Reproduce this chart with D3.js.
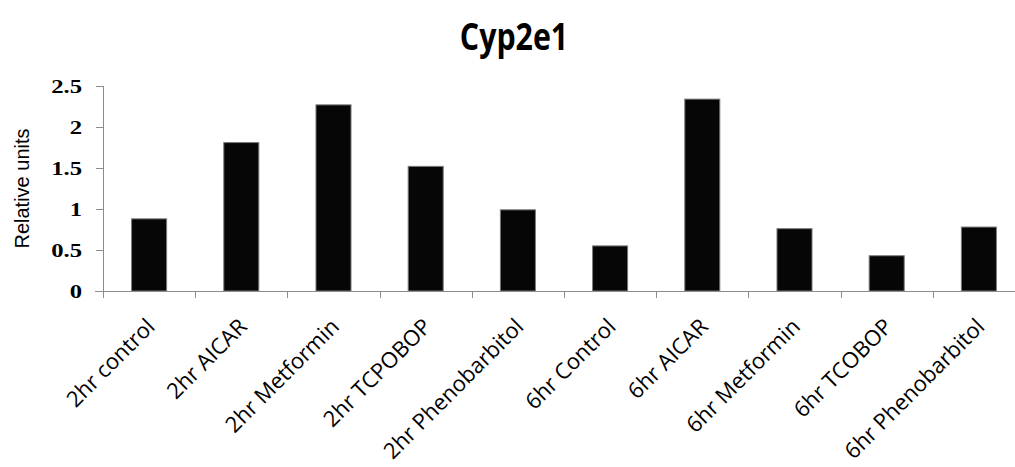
<!DOCTYPE html>
<html>
<head>
<meta charset="utf-8">
<script src="https://cdn.jsdelivr.net/npm/d3@7"></script>
<style>
  html, body { margin: 0; padding: 0; background: #ffffff; }
  svg { display: block; }
</style>
</head>
<body>
<svg id="chart" width="1015" height="467"></svg>
<script>
const categories = ["2hr control", "2hr AICAR", "2hr Metformin", "2hr TCPOBOP", "2hr Phenobarbitol",
                    "6hr Control", "6hr AICAR", "6hr Metformin", "6hr TCOBOP", "6hr Phenobarbitol"];
const values = [0.88, 1.81, 2.27, 1.52, 0.99, 0.55, 2.34, 0.76, 0.43, 0.78];
const yTicks = [0, 0.5, 1, 1.5, 2, 2.5];
const yTickLabels = ["0", "0.5", "1", "1.5", "2", "2.5"];
const chartTitle = "Cyp2e1";
const yTitle = "Relative units";

const svg = d3.select("#chart");
const mLeft = 103, mRight = 1025, mTop = 86, mBottom = 291;
const axisColor = "#8c8c8c";

const x = d3.scaleBand().domain(categories).range([mLeft, mRight]).paddingInner(0.62).paddingOuter(0.31);
const xb = d3.scaleBand().domain(categories).range([mLeft, mRight]);
const y = d3.scaleLinear().domain([0, 2.5]).range([mBottom, mTop]);

// title
svg.append("text")
  .attr("transform", "translate(514,50) scale(0.82,1)")
  .attr("text-anchor", "middle")
  .attr("font-family", "'Open Sans', 'Liberation Sans', sans-serif")
  .attr("font-weight", "bold")
  .attr("font-size", 37)
  .attr("fill", "#000")
  .text(chartTitle);

// y axis title
svg.append("text")
  .attr("transform", `translate(29,${(128 + 249) / 2}) rotate(-90)`)
  .attr("text-anchor", "middle")
  .attr("font-family", "'Liberation Sans', Arial, sans-serif")
  .attr("font-size", 20)
  .attr("fill", "#000")
  .text(yTitle);

// bars
svg.append("g").selectAll("rect")
  .data(values)
  .join("rect")
  .attr("x", (d, i) => x(categories[i]))
  .attr("width", x.bandwidth())
  .attr("y", d => y(d))
  .attr("height", d => mBottom - y(d))
  .attr("fill", "#060606")
  .attr("stroke", "#7a7a7a")
  .attr("stroke-width", 1);

// y axis
const yAxis = svg.append("g");
yAxis.append("line")
  .attr("x1", mLeft + 0.5).attr("x2", mLeft + 0.5)
  .attr("y1", y(2.5)).attr("y2", mBottom + 7)
  .attr("stroke", axisColor);
yAxis.selectAll("line.tick")
  .data(yTicks)
  .join("line")
  .attr("class", "tick")
  .attr("x1", mLeft - 7).attr("x2", mLeft)
  .attr("y1", d => Math.round(y(d)) + 0.5).attr("y2", d => Math.round(y(d)) + 0.5)
  .attr("stroke", axisColor);
yAxis.selectAll("text")
  .data(yTicks)
  .join("text")
  .attr("transform", d => `translate(82,${y(d) + 7}) scale(1.3,1)`)
  .attr("text-anchor", "end")
  .attr("font-family", "'Liberation Serif', 'Times New Roman', serif")
  .attr("font-weight", "bold")
  .attr("font-size", 19)
  .attr("fill", "#000")
  .text((d, i) => yTickLabels[i]);

// x axis
const xAxis = svg.append("g");
xAxis.append("line")
  .attr("x1", mLeft - 8).attr("x2", mRight)
  .attr("y1", mBottom + 0.5).attr("y2", mBottom + 0.5)
  .attr("stroke", axisColor);
const bounds = categories.map(c => xb(c)).concat([mRight]);
xAxis.selectAll("line.tick")
  .data(bounds)
  .join("line")
  .attr("class", "tick")
  .attr("x1", d => Math.round(d) + 0.5).attr("x2", d => Math.round(d) + 0.5)
  .attr("y1", mBottom).attr("y2", mBottom + 7)
  .attr("stroke", axisColor);
xAxis.selectAll("text")
  .data(categories)
  .join("text")
  .attr("transform", d => `translate(${xb(d) + xb.bandwidth() / 2 + 7},${mBottom + 37}) rotate(-45)`)
  .attr("text-anchor", "end")
  .attr("font-family", "'Open Sans', 'Liberation Sans', sans-serif")
  .attr("font-size", 22)
  .attr("fill", "#000")
  .text(d => d);
</script>
</body>
</html>
